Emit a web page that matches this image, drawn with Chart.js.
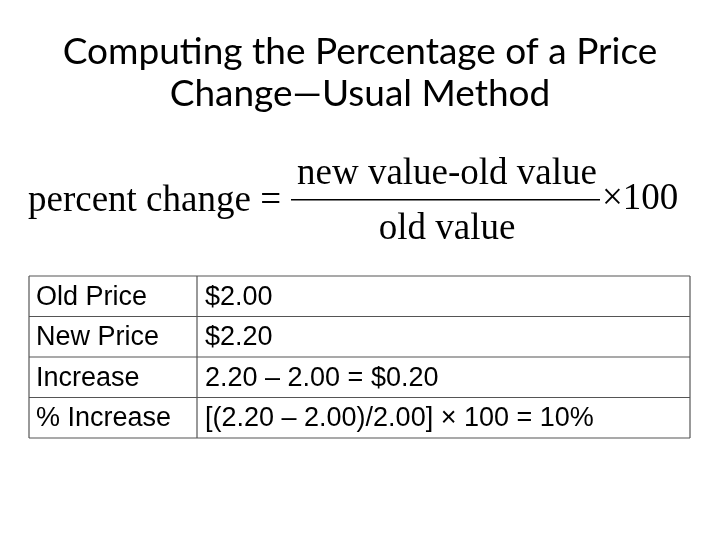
<!DOCTYPE html>
<html>
<head>
<meta charset="utf-8">
<script src="https://cdn.jsdelivr.net/npm/chart.js@4/dist/chart.umd.min.js"></script>
<style>
  html, body { margin: 0; padding: 0; background: #fff; }
  #wrap { width: 720px; height: 540px; }
</style>
</head>
<body>
<div id="wrap"><canvas id="slide"></canvas></div>
<script>
const titleLines = ['Computing the Percentage of a Price', 'Change\u2014Usual Method'];
const formulaParts = ['percent change =', 'new value-old value', 'old value', '\u00d7100'];
const rowLabels = ['Old Price', 'New Price', 'Increase', '% Increase'];
const rowValues = ['$2.00', '$2.20', '2.20 \u2013 2.00 = $0.20', '[(2.20 \u2013 2.00)/2.00] \u00d7 100 = 10%'];

// draws the slide text and table on top of an empty chart
const slidePlugin = {
    id: 'slide',
    afterDraw(chart) {
        const ctx = chart.ctx;
        ctx.save();
        ctx.fillStyle = '#000';
        ctx.textBaseline = 'middle';

        ctx.font = '37px Lato, "Open Sans", sans-serif';
        ctx.textAlign = 'center';
        ctx.fillText(titleLines[0], 360, 52);
        ctx.fillText(titleLines[1], 360, 94);

        ctx.font = '37px "Liberation Serif", serif';
        ctx.textAlign = 'left';
        ctx.fillText(formulaParts[0], 28, 201);
        ctx.textAlign = 'center';
        ctx.fillText(formulaParts[1], 447, 174);
        ctx.fillText(formulaParts[2], 447, 229);
        ctx.textAlign = 'left';
        ctx.fillText(formulaParts[3], 602, 199);
        ctx.fillRect(291, 199, 309, 1.5);

        const top = 276, rowH = 40.5, left = 29, right = 690, split = 197;
        ctx.strokeStyle = '#555';
        ctx.lineWidth = 1.2;
        for (let i = 0; i <= rowLabels.length; i++) {
            ctx.beginPath();
            ctx.moveTo(left, top + i * rowH);
            ctx.lineTo(right, top + i * rowH);
            ctx.stroke();
        }
        [left, split, right].forEach(x => {
            ctx.beginPath();
            ctx.moveTo(x, top);
            ctx.lineTo(x, top + rowLabels.length * rowH);
            ctx.stroke();
        });
        ctx.font = '27px "Liberation Sans", Arial, sans-serif';
        ctx.textAlign = 'left';
        rowLabels.forEach((label, i) => {
            const y = top + i * rowH + rowH / 2 + 1;
            ctx.fillText(label, 36, y);
            ctx.fillText(rowValues[i], 205, y);
        });
        ctx.restore();
    }
};

new Chart(document.getElementById('slide'), {
    type: 'scatter',
    data: { datasets: [{ data: [] }] },
    options: {
        responsive: true,
        maintainAspectRatio: false,
        animation: false,
        plugins: { legend: { display: false }, tooltip: { enabled: false } },
        scales: { x: { display: false }, y: { display: false } }
    },
    plugins: [slidePlugin]
});
</script>
</body>
</html>
